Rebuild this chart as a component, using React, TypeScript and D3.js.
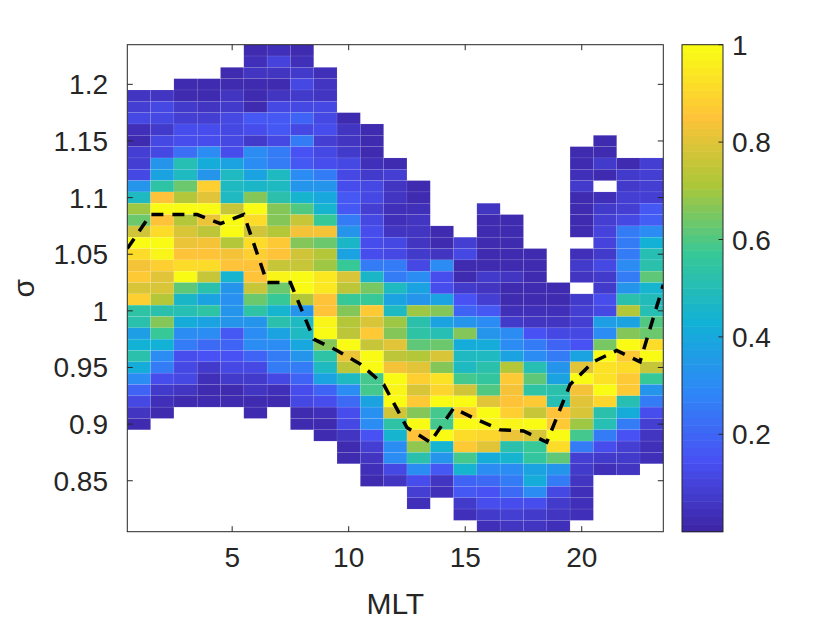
import { useEffect, useRef } from "react";
import * as d3 from "d3";

// MLT bin centres (hours)
const mlt = [1, 2, 3, 4, 5, 6, 7, 8, 9, 10, 11, 12, 13, 14, 15, 16, 17, 18, 19, 20, 21, 22, 23];

// sigma of the top cell in each MLT column (bins are 0.01 wide)
const sigmaTop = [
    1.19, 1.19, 1.2, 1.2, 1.21, 1.23, 1.23, 1.23, 1.21, 1.17, 1.16, 1.13, 1.11, 1.07, 1.06, 1.09,
    1.08, 1.05, 1.02, 1.14, 1.15, 1.13, 1.13,
];

// normalised occurrence, top to bottom, one list per MLT column (null = no data)
const density: (number | null)[][] = [
    [0.06, 0.085, 0.11, 0.04, 0.02, 0.09, 0.09, 0.11, 0.34, 0.47, 0.69, 0.64, 0.78, 1.0, 0.92, 0.84, 0.87, 0.79, 0.88, 0.54, 0.53, 0.36, 0.43, 0.53, 0.42, 0.3, 0.2, 0.11, 0.05, 0.03],
    [0.06, 0.12, 0.11, 0.07, 0.12, 0.12, 0.34, 0.38, 0.54, 0.85, 1.0, 0.85, 0.91, 0.99, 0.97, 0.89, 0.8, 0.79, 0.73, 0.52, 0.67, 0.57, 0.43, 0.3, 0.26, 0.135, 0.07, 0.04, 0.03],
    [0.03, 0.03, 0.07, 0.08, 0.135, 0.13, 0.23, 0.5, 0.47, 0.64, 0.73, 1.0, 0.73, 0.79, 0.82, 0.85, 0.91, 1.0, 0.62, 0.46, 0.5, 0.42, 0.31, 0.26, 0.135, 0.11, 0.11, 0.05, 0.03],
    [0.03, 0.03, 0.05, 0.08, 0.135, 0.13, 0.3, 0.42, 0.34, 0.88, 0.8, 1.0, 0.82, 0.74, 0.84, 0.85, 0.91, 0.75, 0.53, 0.39, 0.54, 0.38, 0.3, 0.21, 0.15, 0.07, 0.04, 0.02, 0.02],
    [0.03, 0.03, 0.05, 0.07, 0.11, 0.11, 0.12, 0.14, 0.38, 0.47, 0.47, 0.47, 0.76, 1.0, 1.0, 0.72, 0.84, 0.85, 0.45, 0.33, 0.32, 0.34, 0.33, 0.17, 0.2, 0.15, 0.11, 0.07, 0.03, 0.02],
    [0.03, 0.04, 0.05, 0.03, 0.03, 0.03, 0.16, 0.13, 0.07, 0.3, 0.3, 0.38, 0.46, 0.67, 1.0, 0.92, 0.78, 0.92, 0.88, 0.85, 0.85, 0.76, 0.63, 0.54, 0.33, 0.3, 0.3, 0.2, 0.11, 0.07, 0.06, 0.03, 0.02],
    [0.04, 0.1, 0.05, 0.03, 0.05, 0.11, 0.16, 0.16, 0.12, 0.26, 0.26, 0.47, 0.47, 0.53, 0.66, 0.67, 0.73, 0.87, 0.85, 0.75, 0.98, 0.64, 0.57, 0.45, 0.53, 0.38, 0.3, 0.26, 0.26, 0.11, 0.04, 0.02],
    [0.03, 0.04, 0.07, 0.12, 0.07, 0.11, 0.2, 0.12, 0.26, 0.15, 0.17, 0.3, 0.33, 0.44, 0.6, 0.76, 0.83, 0.67, 0.77, 0.76, 1.0, 1.0, 0.73, 0.34, 0.47, 0.47, 0.4, 0.34, 0.26, 0.2, 0.135, 0.11, 0.03, 0.02],
    [0.04, 0.05, 0.05, 0.12, 0.11, 0.135, 0.08, 0.12, 0.13, 0.26, 0.33, 0.4, 0.45, 0.57, 0.83, 0.64, 0.72, 0.69, 0.94, 0.94, 0.85, 0.85, 0.98, 1.0, 0.67, 0.54, 0.47, 0.39, 0.2, 0.135, 0.04, 0.03, 0.03],
    [0.03, 0.05, 0.05, 0.07, 0.11, 0.12, 0.13, 0.17, 0.17, 0.26, 0.33, 0.46, 0.39, 0.57, 0.79, 0.74, 0.57, 0.67, 0.73, 0.74, 1.0, 0.82, 0.74, 0.47, 0.3, 0.21, 0.135, 0.11, 0.05, 0.03, 0.02],
    [0.03, 0.03, 0.03, 0.04, 0.07, 0.11, 0.12, 0.09, 0.12, 0.13, 0.14, 0.14, 0.26, 0.46, 0.65, 0.57, 0.86, 0.79, 0.86, 0.76, 1.0, 1.0, 0.59, 0.58, 0.38, 0.32, 0.3, 0.15, 0.09, 0.05, 0.04, 0.03],
    [0.03, 0.085, 0.06, 0.06, 0.04, 0.04, 0.06, 0.11, 0.12, 0.26, 0.26, 0.47, 0.38, 0.47, 0.69, 0.67, 0.81, 0.74, 0.83, 1.0, 0.98, 0.99, 0.78, 0.54, 0.45, 0.3, 0.3, 0.11, 0.05],
    [0.03, 0.03, 0.04, 0.06, 0.06, 0.06, 0.07, 0.12, 0.3, 0.38, 0.34, 0.7, 0.52, 0.54, 0.62, 0.73, 0.8, 0.88, 0.79, 0.86, 0.67, 1.0, 0.85, 0.68, 0.53, 0.3, 0.14, 0.085, 0.04],
    [0.02, 0.03, 0.05, 0.3, 0.14, 0.13, 0.38, 0.66, 0.38, 0.51, 0.63, 0.79, 0.66, 0.93, 0.9, 1.0, 0.59, 0.59, 1.0, 0.45, 0.33, 0.16, 0.05, 0.04],
    [0.08, 0.12, 0.02, 0.02, 0.07, 0.15, 0.2, 0.34, 0.66, 0.42, 0.48, 0.48, 0.58, 0.77, 1.0, 0.88, 1.0, 0.91, 0.86, 0.59, 0.45, 0.2, 0.17, 0.07, 0.04],
    [0.05, 0.02, 0.02, 0.02, 0.02, 0.02, 0.07, 0.06, 0.08, 0.17, 0.3, 0.34, 0.42, 0.47, 0.53, 0.55, 0.6, 0.8, 1.0, 0.97, 0.9, 0.8, 0.42, 0.3, 0.21, 0.15, 0.14, 0.07, 0.04],
    [0.02, 0.02, 0.02, 0.02, 0.03, 0.05, 0.03, 0.03, 0.04, 0.07, 0.3, 0.31, 0.38, 0.73, 0.86, 0.83, 0.85, 0.88, 0.98, 0.82, 0.53, 0.45, 0.3, 0.25, 0.21, 0.14, 0.08, 0.05],
    [0.02, 0.02, 0.03, 0.03, 0.02, 0.04, 0.06, 0.15, 0.25, 0.3, 0.5, 0.62, 0.54, 0.86, 0.76, 1.0, 0.79, 0.57, 0.55, 0.38, 0.42, 0.3, 0.14, 0.07, 0.05],
    [0.03, 0.03, 0.04, 0.05, 0.11, 0.2, 0.25, 0.33, 0.38, 0.53, 0.51, 0.85, 0.86, 1.0, 0.92, 0.62, 0.34, 0.25, 0.11, 0.07, 0.05, 0.04],
    [0.03, 0.03, 0.04, 0.07, 0.03, 0.02, 0.03, 0.02, null, 0.04, 0.07, 0.05, null, 0.07, 0.08, 0.085, 0.11, 0.15, 0.38, 0.8, 1.0, 0.83, 0.8, 0.79, 0.69, 0.59, 0.26, 0.09, 0.07, 0.05, 0.04, 0.04, 0.04],
    [0.02, 0.03, 0.07, 0.03, null, 0.04, 0.07, 0.08, 0.1, 0.1, 0.07, 0.11, 0.07, 0.07, 0.14, 0.12, 0.37, 0.3, 0.65, 1.0, 0.93, 0.93, 0.99, 0.9, 0.52, 0.5, 0.26, 0.13, 0.07, 0.04],
    [0.03, 0.07, 0.07, 0.085, 0.085, 0.11, 0.26, 0.26, 0.26, 0.3, 0.25, 0.33, 0.53, 0.72, 0.38, 0.67, 1.0, 0.87, 0.92, 0.86, 0.86, 0.51, 0.42, 0.26, 0.15, 0.09, 0.07, 0.05],
    [0.085, 0.085, 0.085, 0.09, 0.17, 0.18, 0.3, 0.43, 0.5, 0.52, 0.62, 0.45, 0.49, 0.5, 0.6, 0.63, 0.92, 1.0, 0.75, 0.57, 0.33, 0.25, 0.14, 0.085, 0.05, 0.04, 0.04],
];

// dashed median line, at the MLT bin edges
const lineMLT = [0.5, 1.5, 2.5, 3.5, 4.5, 5.5, 6.5, 7.5, 8.5, 9.5, 10.5, 11.5, 12.5, 13.5, 14.5, 15.5, 16.5, 17.5, 18.5, 19.5, 20.5, 21.5, 22.5, 23.5];
const lineSigma = [
    1.055, 1.085, 1.085, 1.085, 1.077, 1.085, 1.025, 1.025, 0.975, 0.965, 0.953, 0.935, 0.897, 0.884,
    0.914, 0.904, 0.895, 0.894, 0.884, 0.935, 0.955, 0.965, 0.955, 1.023,
];

const xTicks = [5, 10, 15, 20];
const yTicks = [0.85, 0.9, 0.95, 1, 1.05, 1.1, 1.15, 1.2];
const cbTicks = [0.2, 0.4, 0.6, 0.8, 1];

// parula, sampled at 8 points
const parulaNodes = ["#3e26a8", "#4852f4", "#2e87f7", "#12b1d6", "#37c897", "#abc739", "#fec338", "#f9fb14"];

const W = 830;
const H = 623;
const plot = { left: 127.3, right: 663.3, top: 44.7, bottom: 531.7 };
const cbar = { left: 682, right: 723 };
const font = "'Liberation Sans', Arial, Helvetica, sans-serif";
const axisColor = "#262626";

const App = () => {
    const svgRef = useRef<SVGSVGElement>(null);

    useEffect(() => {
        const svg = d3.select(svgRef.current);
        svg.selectAll("*").remove();

        const x = d3.scaleLinear().domain([0.5, 23.5]).range([plot.left, plot.right]);
        const y = d3.scaleLinear().domain([0.805, 1.235]).range([plot.bottom, plot.top]);
        const interp = d3.piecewise(d3.interpolateRgb, parulaNodes);
        // 64-level colour map like MATLAB
        const color = (v: number) => interp(Math.min(63, Math.floor(v * 64)) / 63);

        const cells: { m: number; s: number; v: number }[] = [];
        density.forEach((col, i) => {
            col.forEach((v, j) => {
                if (v === null) return;
                cells.push({ m: mlt[i], s: sigmaTop[i] - 0.01 * j, v });
            });
        });

        svg.append("defs")
            .append("clipPath")
            .attr("id", "plotClip")
            .append("rect")
            .attr("x", plot.left)
            .attr("y", plot.top)
            .attr("width", plot.right - plot.left)
            .attr("height", plot.bottom - plot.top);

        const g = svg.append("g").attr("clip-path", "url(#plotClip)");

        g.selectAll("rect.cell")
            .data(cells)
            .enter()
            .append("rect")
            .attr("class", "cell")
            .attr("x", (d) => x(d.m - 0.5))
            .attr("y", (d) => y(d.s + 0.005))
            .attr("width", (d) => x(d.m + 0.5) - x(d.m - 0.5))
            .attr("height", (d) => y(d.s - 0.005) - y(d.s + 0.005))
            .attr("fill", (d) => color(d.v))
            .attr("stroke", "rgba(255,255,255,0.12)")
            .attr("stroke-width", 0.6);

        const line = d3
            .line<number>()
            .x((_, i) => x(lineMLT[i]))
            .y((d) => y(d));

        g.append("path")
            .datum(lineSigma)
            .attr("d", line)
            .attr("fill", "none")
            .attr("stroke", "#000")
            .attr("stroke-width", 3.5)
            .attr("stroke-dasharray", "12 9");

        // axes box and ticks
        const axes = svg.append("g").attr("stroke", axisColor).attr("stroke-width", 1).attr("fill", "none");
        axes.append("rect")
            .attr("x", plot.left)
            .attr("y", plot.top)
            .attr("width", plot.right - plot.left)
            .attr("height", plot.bottom - plot.top);
        xTicks.forEach((t) => {
            axes.append("line").attr("x1", x(t)).attr("x2", x(t)).attr("y1", plot.bottom).attr("y2", plot.bottom - 5.5);
            axes.append("line").attr("x1", x(t)).attr("x2", x(t)).attr("y1", plot.top).attr("y2", plot.top + 5.5);
        });
        yTicks.forEach((t) => {
            axes.append("line").attr("x1", plot.left).attr("x2", plot.left + 5.5).attr("y1", y(t)).attr("y2", y(t));
            axes.append("line").attr("x1", plot.right).attr("x2", plot.right - 5.5).attr("y1", y(t)).attr("y2", y(t));
        });

        const labels = svg.append("g").attr("fill", axisColor).style("font-family", font);
        xTicks.forEach((t) => {
            labels.append("text")
                .attr("x", x(t))
                .attr("y", 567)
                .attr("text-anchor", "middle")
                .style("font-size", "28px")
                .text(t);
        });
        yTicks.forEach((t) => {
            labels.append("text")
                .attr("x", 108)
                .attr("y", y(t) + 10)
                .attr("text-anchor", "end")
                .style("font-size", "28px")
                .text(t);
        });
        labels.append("text")
            .attr("x", (plot.left + plot.right) / 2)
            .attr("y", 614)
            .attr("text-anchor", "middle")
            .style("font-size", "30px")
            .text("MLT");
        labels.append("text")
            .attr("transform", `translate(34, ${(plot.top + plot.bottom) / 2}) rotate(-90)`)
            .attr("text-anchor", "middle")
            .style("font-size", "30px")
            .text("σ");

        // colour bar
        const cy = d3.scaleLinear().domain([0, 1]).range([plot.bottom, plot.top]);
        const steps = d3.range(64);
        svg.append("g")
            .selectAll("rect")
            .data(steps)
            .enter()
            .append("rect")
            .attr("x", cbar.left)
            .attr("y", (d) => cy((d + 1) / 64))
            .attr("width", cbar.right - cbar.left)
            .attr("height", (d) => cy(d / 64) - cy((d + 1) / 64) + 0.5)
            .attr("fill", (d) => interp(d / 63));
        const cb = svg.append("g").attr("stroke", axisColor).attr("fill", "none");
        cb.append("rect")
            .attr("x", cbar.left)
            .attr("y", plot.top)
            .attr("width", cbar.right - cbar.left)
            .attr("height", plot.bottom - plot.top);
        cbTicks.forEach((t) => {
            cb.append("line").attr("x1", cbar.right).attr("x2", cbar.right - 4.5).attr("y1", cy(t)).attr("y2", cy(t));
            labels.append("text")
                .attr("x", cbar.right + 9)
                .attr("y", cy(t) + 10)
                .style("font-size", "28px")
                .text(t);
        });
    }, []);

    return (
        <svg
            ref={svgRef}
            width={W}
            height={H}
            style={{ position: "absolute", left: 0, top: 0, background: "#fff" }}
        />
    );
};

export default App;
